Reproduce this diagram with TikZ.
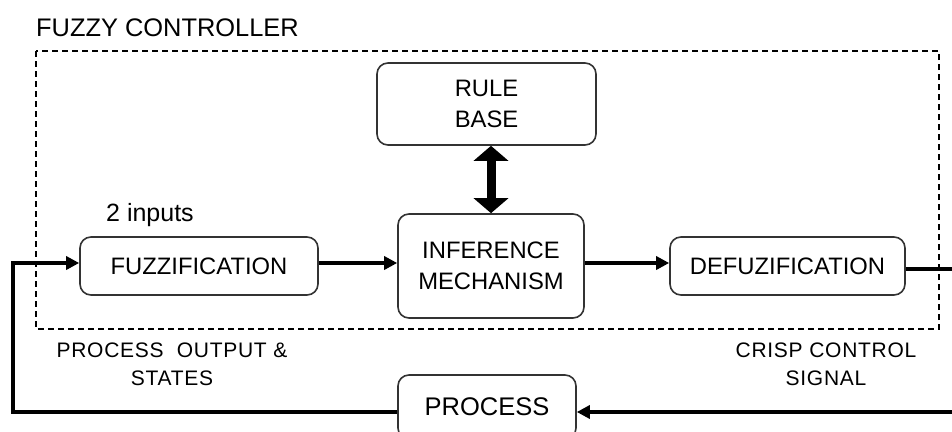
\documentclass[tikz,border=0pt]{standalone}
\usepackage{fontspec}
\setmainfont{Liberation Sans}
\usetikzlibrary{arrows.meta}
\begin{document}
\begin{tikzpicture}[x=1pt,y=-1pt,
  blk/.style={draw=black!80,line width=1.6pt,rounded corners=11pt,align=center,inner sep=0pt,
    font=\fontsize{23.8}{31}\selectfont},
  lab/.style={align=center,inner sep=0pt,font=\fontsize{21}{28}\selectfont\addfontfeature{LetterSpace=3.5}},
  flow/.style={line width=3.6pt,-{Triangle[length=13pt,width=13pt]}},
  plain/.style={line width=3.6pt},
  fat/.style={line width=9pt,{Triangle[length=15pt,width=34pt]}-{Triangle[length=15pt,width=34pt]}}]
\useasboundingbox (0,0) rectangle (952,431);
\clip (0,0) rectangle (952,431);
% frame
\draw[dashed,line width=1.4pt,dash pattern=on 6pt off 4pt] (36,51) rectangle (939,329);
\node[anchor=west,inner sep=0pt,font=\fontsize{25.4}{28}\selectfont] (title) at (36,28) {FUZZY CONTROLLER};
% blocks
\node[blk,minimum width=219pt,minimum height=82pt] (rule) at (486.5,104) {RULE\\BASE};
\node[blk,minimum width=186pt,minimum height=104pt] (inf) at (491,266) {INFERENCE\\MECHANISM};
\node[blk,minimum width=238pt,minimum height=58pt] (fuzz) at (199,266) {FUZZIFICATION};
\node[blk,minimum width=235pt,minimum height=58pt] (defuz) at (787.5,266) {DEFUZIFICATION};
\node[blk,minimum width=178pt,minimum height=64pt,font=\fontsize{25.5}{30}\selectfont] (proc) at (487,407) {PROCESS};
% labels
\node[inner sep=0pt,font=\fontsize{25}{28}\selectfont] (inputs) at (150,215) {2 inputs};
\node[lab] (pos) at (172,364) {PROCESS\ \ OUTPUT \&\\STATES};
\node[lab] (css) at (826,364) {CRISP CONTROL\\SIGNAL};
% coordinates
\coordinate (inL) at (13,263);
\coordinate (botL) at (13,412);
\coordinate (outR) at (952,269);
\coordinate (inR) at (952,412);
% connectors
\draw[fat] (inf.north |- rule.south) -- (inf.north);
\draw[flow] (fuzz.east |- inL) -- (inf.west |- inL);
\draw[flow] (inf.east |- inL) -- (defuz.west |- inL);
\draw[plain] (defuz.east |- outR) -- (outR);
\draw[flow] (inR) -- (proc.east |- inR);
\draw[line width=3.6pt,line join=miter] (proc.west |- botL) -- (botL) -- (inL) -- ++(1,0);
\draw[flow] (inL) -- (fuzz.west |- inL);
\end{tikzpicture}
\end{document}
